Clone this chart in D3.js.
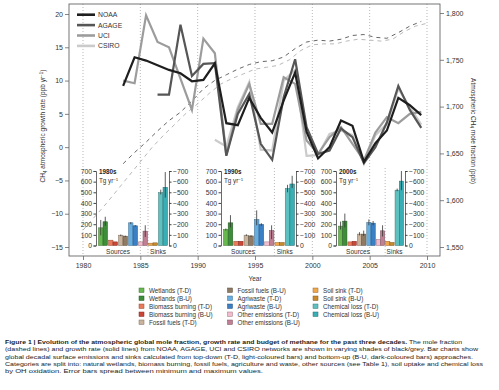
<!DOCTYPE html>
<html>
<head>
<meta charset="utf-8">
<script src="https://cdn.jsdelivr.net/npm/d3@7"></script>
<style>
body { margin: 0; background: #fff; }
text { font-family: "Liberation Sans", Arial, sans-serif; }
</style>
</head>
<body>
<div id="chart-container"></div>
<script>
// Paso 1: Datos (tasa de crecimiento, ppb/yr, punto a mitad de año)
var noaaInicio = 1983;
var noaaCrecimiento = [9.2, 13.5, 13.0, 12.3, 11.6, 11.1, 9.9, 10.1, 12.6, 3.6, 3.3, 7.4, 4.4, 2.2, 7.0, 11.2, 2.3, -1.7, 0.0, 4.0, 3.2, -2.2, 0.6, 2.5, 7.4, 6.3, 4.8];
var agageInicio = 1986;
var agageCrecimiento = [7.9, 7.9, 18.4, 10.7, 12.5, 12.6, -1.3, 5.0, 8.0, 0.5, -1.9, 7.5, 13.2, 3.0, -1.0, -0.5, 2.8, 1.5, -2.4, 0.0, 3.7, 9.2, 5.6, 2.9];
var uciInicio = 1983;
var uciCrecimiento = [10.0, 9.6, 19.8, 15.8, 15.0, 10.3, 5.6, 16.3, 14.1, -1.2, 5.6, 9.5, 3.5, 3.5, 10.5, 9.5, 1.0, -1.0, 1.5, 3.0, 0.5, -2.0, 2.2, 4.5, 3.6, 5.0, 5.3];
var csiroInicio = 1991;
var csiroCrecimiento = [1.1, 0.1, 6.0, 9.8, -0.4, -0.5, 10.0, 11.6, -1.3, -1.2, 2.0, 2.5, 1.8, -2.5, 1.8, 3.5, 8.8, 6.0, 3.4];

// Fraccion molar (ppb, lineas discontinuas)
var noaaFraccionInicio = 1983;
var noaaFraccion = [1639, 1651, 1662, 1674, 1685, 1694, 1706, 1719, 1728, 1734, 1740, 1745, 1748, 1749, 1753, 1762, 1769, 1771, 1770, 1772, 1776, 1777, 1774, 1773, 1779, 1786, 1791];
var uciFraccionInicio = 1979.5;
var uciFraccion = [1568, 1582, 1596, 1611, 1626, 1641, 1656, 1669, 1681, 1693, 1703, 1714, 1724, 1730, 1735, 1740, 1742, 1744, 1750, 1760, 1766, 1767, 1767, 1770, 1772, 1771, 1770, 1772, 1780, 1786, 1789];

// Etiquetas de ejes
var ticksTasa = [-15, -10, -5, 0, 5, 10, 15, 20];
var ticksFraccion = [1550, 1600, 1650, 1700, 1750, 1800];
var ticksAnios = [1980, 1985, 1990, 1995, 2000, 2005, 2010];
var ticksBarras = [0, 100, 200, 300, 400, 500, 600, 700];

// Presupuesto decadal (Tg/yr): T-D (claro) y B-U (oscuro)
var categorias = ["Wetlands", "Biomass burning", "Fossil fuels", "Agriwaste", "Other emissions", "Soil sink", "Chemical loss"];
var decadas = ["1980s", "1990s", "2000s"];
var td1980 = [166, 50, 97, 213, 34, 22, 496];
var bu1980 = [223, 34, 88, 185, 135, 25, 547];
var tdErr1980 = [[95, 240], null, [88, 103], [200, 220], null, null, [480, 525]];
var buErr1980 = [[185, 270], null, [80, 92], [178, 192], [80, 190], null, [450, 690]];
var td1990 = [150, 40, 97, 245, 34, 28, 537];
var bu1990 = [213, 40, 90, 198, 141, 28, 578];
var tdErr1990 = [[140, 160], null, [90, 105], [190, 330], null, null, [500, 570]];
var buErr1990 = [[170, 285], null, [80, 95], [185, 210], [60, 190], null, [540, 655]];
var td2000 = [182, 34, 107, 217, 57, 40, 520];
var bu2000 = [229, 40, 107, 210, 138, 28, 605];
var tdErr2000 = [[150, 225], null, [95, 125], [190, 245], null, null, [510, 535]];
var buErr2000 = [[170, 300], null, [90, 140], [190, 230], [85, 190], null, [520, 700]];

var coloresTD = ["#66b84f", "#ea7a5a", "#c9b39c", "#66ade0", "#f3bccd", "#f2a64a", "#5fc0c0"];
var coloresBU = ["#3d8d3a", "#cc4638", "#8f7a63", "#3b7fc4", "#c07f93", "#c98a2c", "#3aaeb5"];

// Paso 2: SVG
var svg = d3.select("#chart-container").append("svg")
    .attr("width", 499)
    .attr("height", 390);

var izq = 69, der = 440, arriba = 4, abajo = 256;

var x = d3.scaleLinear().domain([1980, 2010]).range([83, 427]);
var yTasa = d3.scaleLinear().domain([-15, 20]).range([247, 14]);
var yFrac = d3.scaleLinear().domain([1550, 1800]).range([247, 13]);

// Lineas verticales punteadas
svg.selectAll("line.grid").data(ticksAnios).enter()
    .append("line")
    .attr("class", "grid")
    .attr("x1", d => x(d)).attr("x2", d => x(d))
    .attr("y1", arriba).attr("y2", abajo)
    .attr("stroke", "#999")
    .attr("stroke-width", 0.7)
    .attr("stroke-dasharray", "1,2");

// Ejes
function estiloEje(g) {
    g.select(".domain").remove();
    g.selectAll("line").attr("stroke", "#666").attr("stroke-width", 0.8);
    g.selectAll("text").attr("fill", "#333").style("font-size", "7px");
}

svg.append("g")
    .attr("transform", "translate(" + izq + ",0)")
    .call(d3.axisLeft(yTasa).tickValues(ticksTasa).tickSize(4).tickPadding(2))
    .call(estiloEje);

svg.append("g")
    .attr("transform", "translate(" + der + ",0)")
    .call(d3.axisRight(yFrac).tickValues(ticksFraccion).tickFormat(d3.format(",")).tickSize(4).tickPadding(2))
    .call(estiloEje);

svg.append("g")
    .attr("transform", "translate(0," + abajo + ")")
    .call(d3.axisBottom(x).tickValues(ticksAnios).tickFormat(d3.format("d")).tickSize(4).tickPadding(3))
    .call(estiloEje);

svg.append("rect")
    .attr("x", izq).attr("y", arriba)
    .attr("width", der - izq).attr("height", abajo - arriba)
    .attr("fill", "none")
    .attr("stroke", "#666")
    .attr("stroke-width", 0.9);

// Titulos de ejes
var tituloIzq = svg.append("text")
    .attr("transform", "translate(45,126) rotate(-90)")
    .attr("text-anchor", "middle")
    .attr("fill", "#333")
    .style("font-size", "6.5px");
tituloIzq.append("tspan").text("CH");
tituloIzq.append("tspan").attr("dy", 1.5).style("font-size", "4.5px").text("4");
tituloIzq.append("tspan").attr("dy", -1.5).text(" atmospheric growth rate (ppb yr");
tituloIzq.append("tspan").attr("dy", -2.5).style("font-size", "4.5px").text("−1");
tituloIzq.append("tspan").attr("dy", 2.5).text(")");

var tituloDer = svg.append("text")
    .attr("transform", "translate(471,131) rotate(90)")
    .attr("text-anchor", "middle")
    .attr("fill", "#333")
    .style("font-size", "6.5px");
tituloDer.append("tspan").text("Atmospheric CH");
tituloDer.append("tspan").attr("dy", 1.5).style("font-size", "4.5px").text("4");
tituloDer.append("tspan").attr("dy", -1.5).text(" mole fraction (ppb)");

svg.append("text")
    .attr("x", 255).attr("y", 281)
    .attr("text-anchor", "middle")
    .attr("fill", "#333")
    .style("font-size", "6.5px")
    .text("Year");

// Paso 3: Lineas discontinuas de fraccion molar
var seriesFraccion = [
    { inicio: uciFraccionInicio, valores: uciFraccion, color: "#b0b0b0" },
    { inicio: noaaFraccionInicio, valores: noaaFraccion, color: "#555" }
];

var lineaFrac = d3.line()
    .x(d => x(d.anio))
    .y(d => yFrac(d.valor));

seriesFraccion.forEach(function(s) {
    var puntos = s.valores.map((v, i) => ({ anio: s.inicio + i + 0.5, valor: v }));
    svg.append("path")
        .datum(puntos)
        .attr("fill", "none")
        .attr("stroke", s.color)
        .attr("stroke-width", 0.9)
        .attr("stroke-dasharray", "4,4")
        .attr("d", lineaFrac);
});

// Paso 4: Lineas de tasa de crecimiento
var seriesCrec = [
    { nombre: "NOAA", inicio: noaaInicio, valores: noaaCrecimiento, color: "#1e1e1e" },
    { nombre: "AGAGE", inicio: agageInicio, valores: agageCrecimiento, color: "#565656" },
    { nombre: "UCI", inicio: uciInicio, valores: uciCrecimiento, color: "#9c9c9c" },
    { nombre: "CSIRO", inicio: csiroInicio, valores: csiroCrecimiento, color: "#cbcbcb" }
];

var lineaTasa = d3.line()
    .x(d => x(d.anio))
    .y(d => yTasa(d.valor));

seriesCrec.slice().reverse().forEach(function(s) {
    var puntos = s.valores.map((v, i) => ({ anio: s.inicio + i + 0.5, valor: v }));
    svg.append("path")
        .datum(puntos)
        .attr("fill", "none")
        .attr("stroke", s.color)
        .attr("stroke-width", 2.2)
        .attr("stroke-linejoin", "miter")
        .attr("d", lineaTasa);
});

// Leyenda de lineas
var leyenda = svg.selectAll("g.leyenda").data(seriesCrec).enter()
    .append("g")
    .attr("class", "leyenda")
    .attr("transform", (d, i) => "translate(77," + (14.7 + i * 10.4) + ")");
leyenda.append("line")
    .attr("x1", 0).attr("x2", 18)
    .attr("stroke", d => d.color)
    .attr("stroke-width", 2.6);
leyenda.append("text")
    .attr("x", 21).attr("y", 2.4)
    .attr("fill", "#333")
    .style("font-size", "6.8px")
    .text(d => d.nombre);

// Paso 5: Graficos de barras insertados
var insertos = [
    { decada: decadas[0], td: td1980, bu: bu1980, tdErr: tdErr1980, buErr: buErr1980, x0: 96, x1: 169 },
    { decada: decadas[1], td: td1990, bu: bu1990, tdErr: tdErr1990, buErr: buErr1990, x0: 221, x1: 296 },
    { decada: decadas[2], td: td2000, bu: bu2000, tdErr: tdErr2000, buErr: buErr2000, x0: 336, x1: 405 }
];

var yBarra = d3.scaleLinear().domain([0, 700]).range([245.5, 171]);

insertos.forEach(function(ins) {
    var g = svg.append("g");
    var xGrupo = d3.scaleBand().domain(categorias).range([ins.x0 + 2, ins.x1 - 1]).paddingInner(0.1).paddingOuter(0.05);
    var anchoBarra = xGrupo.bandwidth() / 2;

    // separador fuentes / sumideros
    var xSep = (xGrupo("Other emissions") + xGrupo.bandwidth() + xGrupo("Soil sink")) / 2;
    g.append("line")
        .attr("x1", xSep).attr("x2", xSep)
        .attr("y1", 168).attr("y2", abajo)
        .attr("stroke", "#999")
        .attr("stroke-width", 0.7)
        .attr("stroke-dasharray", "1,2");

    var filas = categorias.map((c, i) => ({
        cat: c, i: i, td: ins.td[i], bu: ins.bu[i], tdErr: ins.tdErr[i], buErr: ins.buErr[i]
    }));

    g.selectAll("rect.td").data(filas).enter()
        .append("rect")
        .attr("x", d => xGrupo(d.cat))
        .attr("y", d => yBarra(d.td))
        .attr("width", anchoBarra)
        .attr("height", d => yBarra(0) - yBarra(d.td))
        .attr("fill", d => coloresTD[d.i])
        .attr("stroke", d => d3.color(coloresTD[d.i]).darker(1.3))
        .attr("stroke-width", 0.5);

    g.selectAll("rect.bu").data(filas).enter()
        .append("rect")
        .attr("x", d => xGrupo(d.cat) + anchoBarra)
        .attr("y", d => yBarra(d.bu))
        .attr("width", anchoBarra)
        .attr("height", d => yBarra(0) - yBarra(d.bu))
        .attr("fill", d => coloresBU[d.i])
        .attr("stroke", d => d3.color(coloresBU[d.i]).darker(1.3))
        .attr("stroke-width", 0.5);

    // barras de error
    g.selectAll("line.errtd").data(filas.filter(d => d.tdErr)).enter()
        .append("line")
        .attr("x1", d => xGrupo(d.cat) + anchoBarra / 2)
        .attr("x2", d => xGrupo(d.cat) + anchoBarra / 2)
        .attr("y1", d => yBarra(d.tdErr[0]))
        .attr("y2", d => yBarra(d.tdErr[1]))
        .attr("stroke", "#333")
        .attr("stroke-width", 0.8);
    g.selectAll("line.errbu").data(filas.filter(d => d.buErr)).enter()
        .append("line")
        .attr("x1", d => xGrupo(d.cat) + anchoBarra * 1.5)
        .attr("x2", d => xGrupo(d.cat) + anchoBarra * 1.5)
        .attr("y1", d => yBarra(d.buErr[0]))
        .attr("y2", d => yBarra(d.buErr[1]))
        .attr("stroke", "#333")
        .attr("stroke-width", 0.8);

    // ejes del inserto
    g.append("g")
        .attr("transform", "translate(" + ins.x0 + ",0)")
        .call(d3.axisLeft(yBarra).tickValues(ticksBarras).tickSize(2.5).tickPadding(1.5))
        .call(function(a) {
            a.select(".domain").attr("stroke", "#444").attr("stroke-width", 0.8);
            a.selectAll("line").attr("stroke", "#444");
            a.selectAll("text").attr("fill", "#333").style("font-size", "6.8px");
        });
    g.append("g")
        .attr("transform", "translate(" + ins.x1 + ",0)")
        .call(d3.axisRight(yBarra).tickValues(ticksBarras).tickSize(2.5).tickPadding(1.5)
            .tickFormat(d => d === 0 ? "0" : "−" + d))
        .call(function(a) {
            a.select(".domain").attr("stroke", "#444").attr("stroke-width", 0.8);
            a.selectAll("line").attr("stroke", "#444");
            a.selectAll("text").attr("fill", "#333").style("font-size", "6.8px");
        });

    g.append("text")
        .attr("x", ins.x0 + 3).attr("y", 174)
        .attr("fill", "#222")
        .style("font-size", "6.3px")
        .style("font-weight", "bold")
        .text(ins.decada);
    var unidad = g.append("text")
        .attr("x", ins.x0 + 3).attr("y", 183)
        .attr("fill", "#333")
        .style("font-size", "6.3px");
    unidad.append("tspan").text("Tg yr");
    unidad.append("tspan").attr("dy", -2.2).style("font-size", "4.3px").text("−1");

    g.append("text")
        .attr("x", ins.x0 + 22).attr("y", 253.5)
        .attr("text-anchor", "middle")
        .attr("fill", "#333")
        .style("font-size", "6.5px")
        .text("Sources");
    g.append("text")
        .attr("x", (xGrupo("Soil sink") + xGrupo("Chemical loss") + xGrupo.bandwidth()) / 2)
        .attr("y", 253.5)
        .attr("text-anchor", "middle")
        .attr("fill", "#333")
        .style("font-size", "6.5px")
        .text("Sinks");
});

// Paso 6: Leyenda de barras
var entradasLeyenda = [];
categorias.forEach(function(c, i) {
    entradasLeyenda.push({ texto: c + " (T-D)", color: coloresTD[i] });
    entradasLeyenda.push({ texto: c + " (B-U)", color: coloresBU[i] });
});
var colX = [139, 227.5, 313];
var leyBarras = svg.selectAll("g.leyBarra").data(entradasLeyenda).enter()
    .append("g")
    .attr("class", "leyBarra")
    .attr("transform", (d, i) => "translate(" + colX[Math.floor(i / 5)] + "," + (290.5 + (i % 5) * 8) + ")");
leyBarras.append("rect")
    .attr("x", 0).attr("y", -2.5)
    .attr("width", 5).attr("height", 4.5)
    .attr("fill", d => d.color)
    .attr("stroke", d => d3.color(d.color).darker(1.3))
    .attr("stroke-width", 0.5);
leyBarras.append("text")
    .attr("x", 10).attr("y", 2.2)
    .attr("fill", "#333")
    .style("font-size", "6.3px")
    .text(d => d.texto);

// Paso 7: Pie de figura
var pie = [
    { negrita: "Figure 1 | Evolution of the atmospheric global mole fraction, growth rate and budget of methane for the past three decades.", texto: " The mole fraction", ancho: 457 },
    { negrita: "", texto: "(dashed lines) and growth rate (solid lines) from NOAA, AGAGE, UCI and CSIRO networks are shown in varying shades of black/grey. Bar charts show", ancho: 473 },
    { negrita: "", texto: "global decadal surface emissions and sinks calculated from top-down (T-D, light-coloured bars) and bottom-up (B-U, dark-coloured bars) approaches.", ancho: 468 },
    { negrita: "", texto: "Categories are split into: natural wetlands, biomass burning, fossil fuels, agriculture and waste, other sources (see Table 1), soil uptake and chemical loss", ancho: 478 },
    { negrita: "", texto: "by OH oxidation. Error bars spread between minimum and maximum values.", ancho: 258 }
];
pie.forEach(function(l, i) {
    var t = svg.append("text")
        .attr("x", 5).attr("y", 344 + i * 7.35)
        .attr("fill", "#222")
        .attr("textLength", l.ancho)
        .attr("lengthAdjust", "spacingAndGlyphs")
        .style("font-size", "6.2px");
    if (l.negrita) t.append("tspan").style("font-weight", "bold").text(l.negrita);
    t.append("tspan").text(l.texto);
});
</script>
</body>
</html>
